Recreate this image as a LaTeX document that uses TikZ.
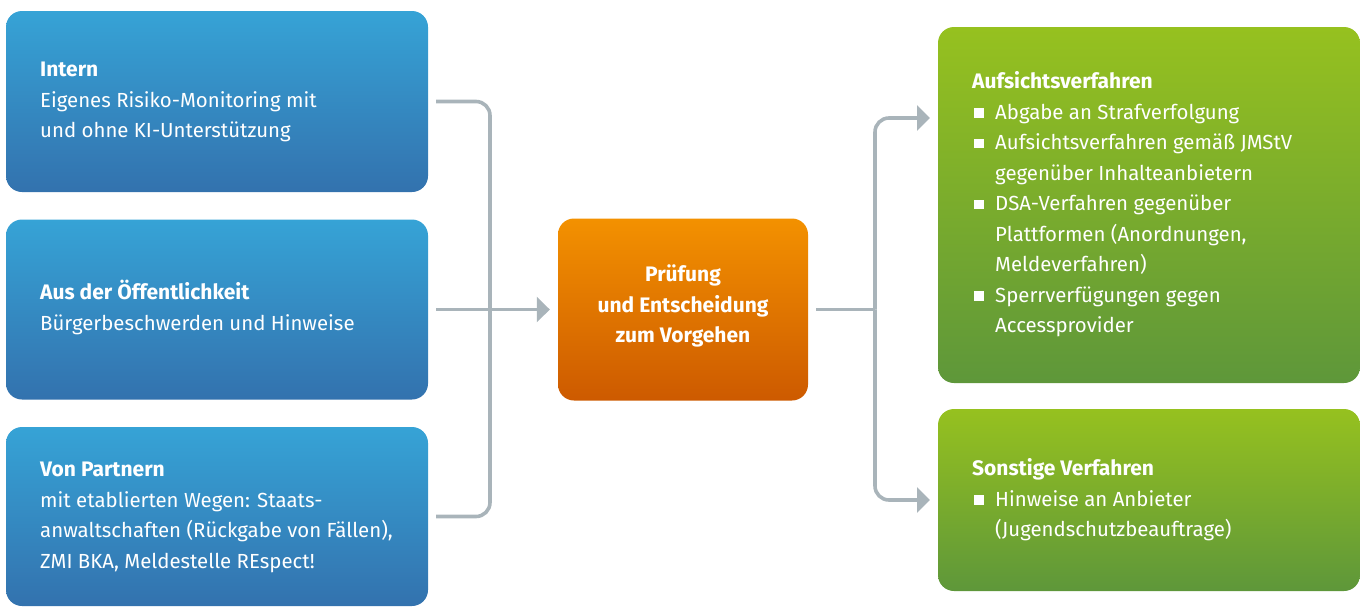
\documentclass[tikz,border=0pt]{standalone}
\usepackage{fontspec}
\setmainfont{Fira Sans}
\usetikzlibrary{arrows.meta}
\definecolor{bluetop}{HTML}{36A3D6}
\definecolor{bluebot}{HTML}{3372AE}
\definecolor{ortop}{HTML}{F39100}
\definecolor{orbot}{HTML}{CD5A00}
\definecolor{grtop}{HTML}{96C11F}
\definecolor{grbot}{HTML}{5E973A}
\definecolor{conn}{HTML}{A9B4BA}
\begin{document}
\begin{tikzpicture}[x=1pt,y=-1pt,
  box/.style={rounded corners=16pt, inner sep=0pt, draw=none},
  bluebox/.style={box, top color=bluetop, bottom color=bluebot},
  orbox/.style={box, top color=ortop, bottom color=orbot},
  grbox/.style={box, top color=grtop, bottom color=grbot},
  txt/.style={anchor=base west, inner sep=0pt, text=white, font=\fontsize{20.4}{24}\selectfont},
  ttl/.style={txt, font=\fontsize{21}{24}\selectfont\bfseries},
  ctr/.style={anchor=base, inner sep=0pt, text=white, font=\fontsize{21}{24}\selectfont\bfseries},
  line/.style={draw=conn, line width=3.6pt},
  arr/.style={line, -{Triangle[length=13pt,width=25pt]}},
  bullet/.style={fill=white}
]
\useasboundingbox (0,0) rectangle (1360,606);

% boxes
\node[bluebox, minimum width=422pt, minimum height=181pt] (intern) at (217,101.5) {};
\node[bluebox, minimum width=422pt, minimum height=180pt] (oeff) at (217,309.5) {};
\node[bluebox, minimum width=422pt, minimum height=179pt] (partner) at (217,516.5) {};
\node[orbox, minimum width=250pt, minimum height=182pt] (pruef) at (683,309.5) {};
\node[grbox, minimum width=422pt, minimum height=356pt] (aufs) at (1149,205) {};
\node[grbox, minimum width=422pt, minimum height=182pt] (sonst) at (1149,500) {};

% texts left
\node[ttl] (t1) at (40,76) {Intern};
\node[txt] (t2) at (40,107) {Eigenes Risiko-Monitoring mit};
\node[txt] (t3) at (40,137.5) {und ohne KI-Unterstützung};

\node[ttl] (o1) at (40,299) {Aus der Öffentlichkeit};
\node[txt] (o2) at (40,330) {Bürgerbeschwerden und Hinweise};

\node[ttl] (p1) at (40,476) {Von Partnern};
\node[txt] (p2) at (40,507) {mit etablierten Wegen: Staats-};
\node[txt] (p3) at (40,537.5) {anwaltschaften (Rückgabe von Fällen),};
\node[txt] (p4) at (40,568) {ZMI BKA, Meldestelle REspect!};

% center
\node[ctr] (c1) at (683,281) {Prüfung};
\node[ctr] (c2) at (683,312) {und Entscheidung};
\node[ctr] (c3) at (683,342.5) {zum Vorgehen};

% right texts
\node[ttl] (a0) at (972,88) {Aufsichtsverfahren};
\node[txt] (a1) at (995,119) {Abgabe an Strafverfolgung};
\node[txt] (a2) at (995,149.5) {Aufsichtsverfahren gemäß JMStV};
\node[txt] (a3) at (995,180) {gegenüber Inhalteanbietern};
\node[txt] (a4) at (995,210.5) {DSA-Verfahren gegenüber};
\node[txt] (a5) at (995,241) {Plattformen (Anordnungen,};
\node[txt] (a6) at (995,271.5) {Meldeverfahren)};
\node[txt] (a7) at (995,302) {Sperrverfügungen gegen};
\node[txt] (a8) at (995,332.5) {Accessprovider};
\fill[bullet] (974,108) rectangle (983.5,117.5);
\fill[bullet] (974,138.5) rectangle (983.5,148);
\fill[bullet] (974,199.5) rectangle (983.5,209);
\fill[bullet] (974,291) rectangle (983.5,300.5);

\node[ttl] (s0) at (972,475) {Sonstige Verfahren};
\node[txt] (s1) at (995,506) {Hinweise an Anbieter};
\node[txt] (s2) at (995,536.5) {(Jugendschutzbeauftrage)};
\fill[bullet] (974,495) rectangle (983.5,504.5);

% connectors left
\coordinate (jl) at (490,309.5);
\draw[line, rounded corners=14pt] ([xshift=8pt]intern.east) -| (jl |- partner.east) -- ([xshift=8pt]partner.east);
\draw[arr] ([xshift=8pt]oeff.east) -- ([xshift=-8pt]pruef.west);

% connectors right
\coordinate (jr) at (875,309.5);
\coordinate (ta) at (930,118);
\coordinate (tb) at (930,500);
\draw[line] ([xshift=8pt]pruef.east) -- (jr);
\draw[arr, rounded corners=14pt] (jr) |- (ta);
\draw[arr, rounded corners=14pt] (jr) |- (tb);
\end{tikzpicture}
\end{document}
